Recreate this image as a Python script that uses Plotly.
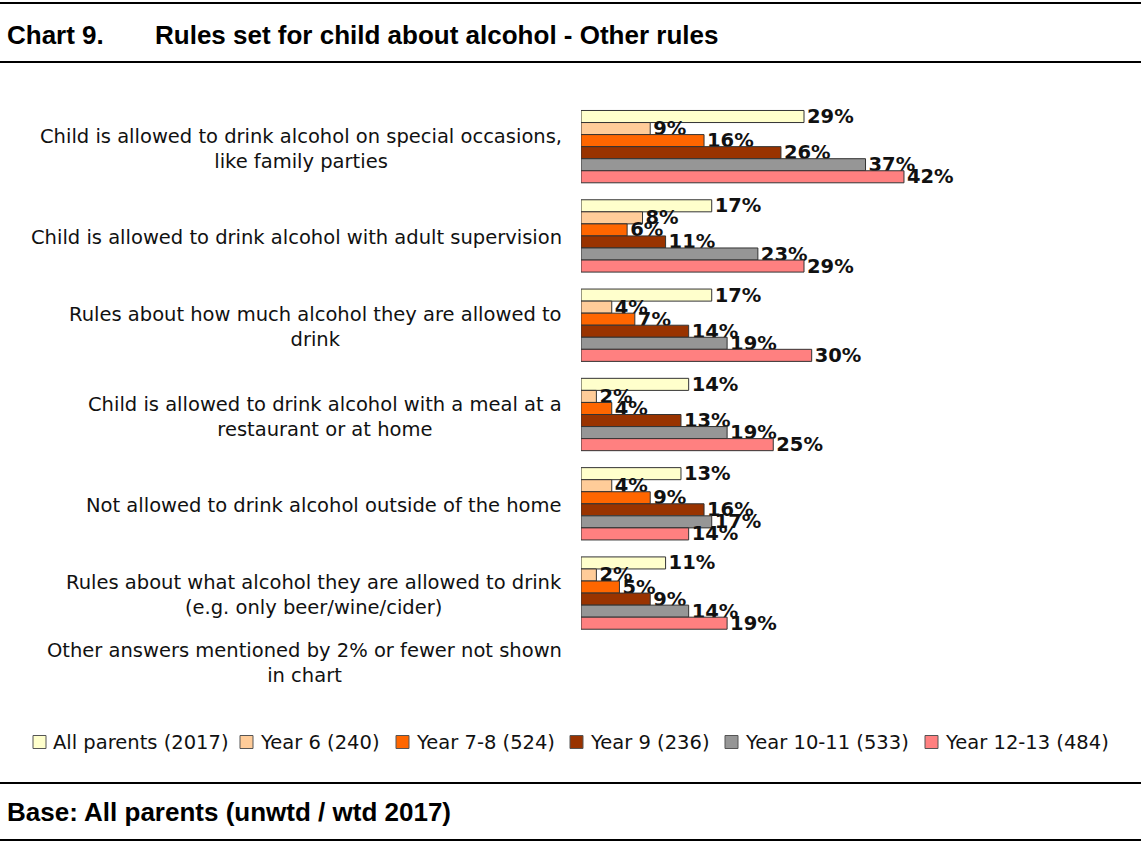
import plotly.graph_objects as go

# Categories (top to bottom) and survey series
categories = [
    "Child is allowed to drink alcohol on special occasions,<br>like family parties",
    "Child is allowed to drink alcohol with adult supervision",
    "Rules about how much alcohol they are allowed to<br>drink",
    "Child is allowed to drink alcohol with a meal at a<br>restaurant or at home",
    "Not allowed to drink alcohol outside of the home",
    "Rules about what alcohol they are allowed to drink<br>(e.g. only beer/wine/cider)",
    "Other answers mentioned by 2% or fewer not shown<br>in chart",
]

series_names = [
    "All parents (2017)",
    "Year 6 (240)",
    "Year 7-8 (524)",
    "Year 9 (236)",
    "Year 10-11 (533)",
    "Year 12-13 (484)",
]

all_parents = [29, 17, 17, 14, 13, 11, None]
year_6 = [9, 8, 4, 2, 4, 2, None]
year_7_8 = [16, 6, 7, 4, 9, 5, None]
year_9 = [26, 11, 14, 13, 16, 9, None]
year_10_11 = [37, 23, 19, 19, 17, 14, None]
year_12_13 = [42, 29, 30, 25, 14, 19, None]

series_values = [all_parents, year_6, year_7_8, year_9, year_10_11, year_12_13]
colors = ["#FFFFCC", "#FFCC99", "#FF6600", "#993300", "#969696", "#FF8080"]

W, H = 1141, 842
ML, MR, MT, MB = 581, 22, 102, 115
PW = W - ML - MR
PH = H - MT - MB

LABEL_FONT = "DejaVu Sans"
LABEL_SIZE = 19.5
HEAD_FONT = "Liberation Sans"
HEAD_SIZE = 26


def px_x(px):
    return (px - ML) / PW


def px_y(py):
    return (H - MB - py) / PH


cat_ids = list(range(len(categories)))

fig = go.Figure()
for name, vals, col in zip(series_names, series_values, colors):
    fig.add_trace(go.Bar(
        y=cat_ids,
        x=vals,
        name=name,
        orientation="h",
        marker=dict(color=col, line=dict(color="#333333", width=1)),
        text=[f"{v}%" if v is not None else "" for v in vals],
        textposition="outside",
        constraintext="none",
        cliponaxis=False,
        textfont=dict(family=LABEL_FONT, size=LABEL_SIZE, color="#111111",
                      weight="bold"),
        showlegend=False,
    ))

annotations = []
# category labels: lines centred, block right-aligned next to the bars
for i, cat in enumerate(categories):
    annotations.append(dict(
        x=0, y=i, xref="x", yref="y",
        text=cat, showarrow=False, xanchor="right", yanchor="middle",
        align="center", xshift=-17,
        yshift=19 if i == len(categories) - 1 else -2,
        font=dict(family=LABEL_FONT, size=LABEL_SIZE, color="#111111"),
    ))

# headings
annotations += [
    dict(x=px_x(5), y=px_y(35), xref="paper", yref="paper",
         text="<b>Chart 9.</b>", showarrow=False, xanchor="left", yanchor="middle",
         font=dict(family=HEAD_FONT, size=HEAD_SIZE, color="black")),
    dict(x=px_x(153), y=px_y(35), xref="paper", yref="paper",
         text="<b>Rules set for child about alcohol - Other rules</b>",
         showarrow=False, xanchor="left", yanchor="middle",
         font=dict(family=HEAD_FONT, size=HEAD_SIZE, color="black")),
    dict(x=px_x(5), y=px_y(812), xref="paper", yref="paper",
         text="<b>Base: All parents (unwtd / wtd 2017)</b>",
         showarrow=False, xanchor="left", yanchor="middle",
         font=dict(family=HEAD_FONT, size=HEAD_SIZE, color="black")),
]

shapes = []
for py in (3, 62, 783, 840):
    shapes.append(dict(type="line", xref="paper", yref="paper",
                       x0=px_x(0), x1=px_x(W), y0=px_y(py), y1=px_y(py),
                       line=dict(color="black", width=2)))

# legend row: swatch + series name
legend_x = [33, 240, 396, 570, 725, 925]
legend_y = 742
sw = 13
for lx, name, col in zip(legend_x, series_names, colors):
    shapes.append(dict(type="rect", xref="paper", yref="paper",
                       x0=px_x(lx), x1=px_x(lx + sw),
                       y0=px_y(legend_y + sw / 2), y1=px_y(legend_y - sw / 2),
                       fillcolor=col, line=dict(color="#555555", width=1)))
    annotations.append(dict(
        x=px_x(lx + sw + 5), y=px_y(legend_y), xref="paper", yref="paper",
        text=name, showarrow=False, xanchor="left", yanchor="middle",
        font=dict(family=LABEL_FONT, size=LABEL_SIZE, color="#111111"),
    ))

fig.update_layout(
    width=W, height=H,
    margin=dict(l=ML, r=MR, t=MT, b=MB),
    paper_bgcolor="white", plot_bgcolor="white",
    barmode="group", bargap=0.19, bargroupgap=0,
    showlegend=False,
    xaxis=dict(range=[0, PW / 7.69], visible=False, fixedrange=True),
    yaxis=dict(range=[len(categories) - 0.5, -0.5], showticklabels=False,
               showgrid=False, zeroline=False, showline=False, ticks=""),
    annotations=annotations,
    shapes=shapes,
)

fig.write_html("out.html")
